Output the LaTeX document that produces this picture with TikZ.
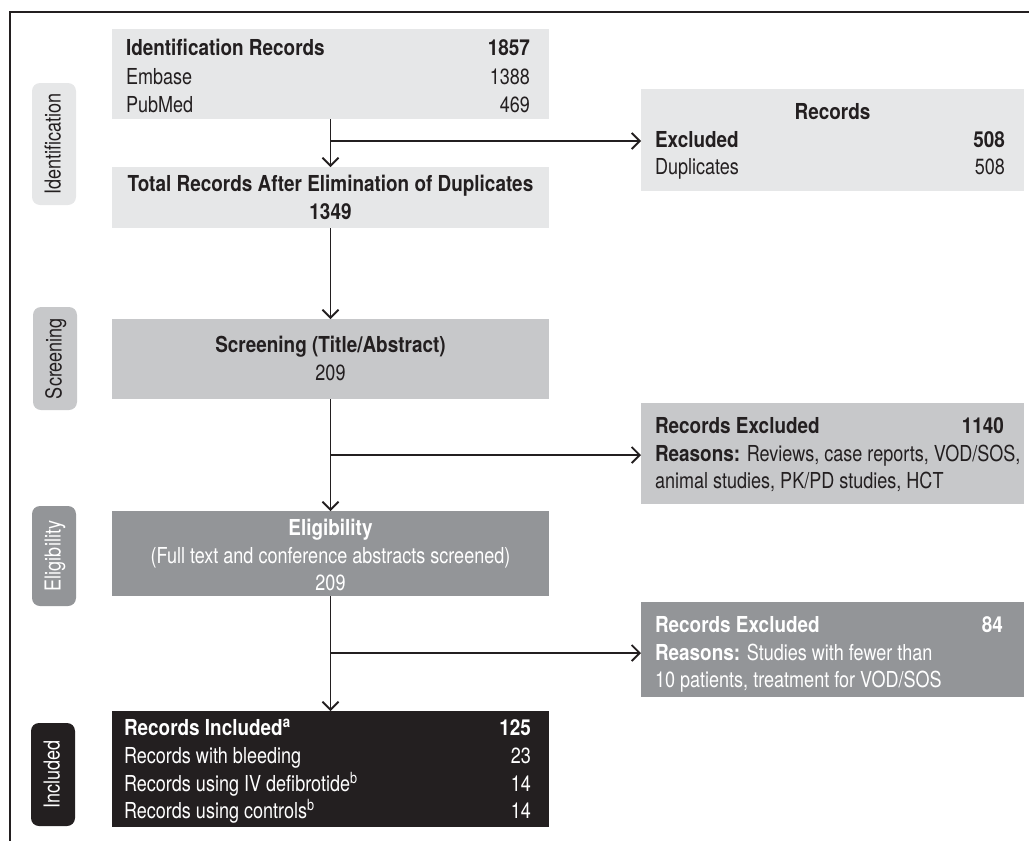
\documentclass[tikz,border=0pt]{standalone}
\usepackage{fontspec}
\setmainfont{TeX Gyre Heros}[FakeStretch=0.82,BoldFeatures={FakeStretch=0.86}]
\usetikzlibrary{arrows.meta}
\definecolor{cLight}{HTML}{E6E7E8}
\definecolor{cMid}{HTML}{C7C8CA}
\definecolor{cDark}{HTML}{939598}
\definecolor{cInk}{HTML}{231F20}
\newcommand{\myfs}{\fontsize{22}{28}\selectfont}
\begin{document}
\begin{tikzpicture}[x=1pt,y=-1pt,
  boxnode/.style={anchor=north west, inner sep=0pt, outer sep=0pt, draw=none},
  txt/.style={inner sep=0pt, outer sep=0pt, text=cInk, font=\myfs},
  btxt/.style={txt, font=\myfs\bfseries},
  wtxt/.style={txt, text=white},
  wbtxt/.style={btxt, text=white},
  side/.style={rounded corners=8pt, inner sep=0pt, minimum height=44pt, rotate=90,
    text height=15pt, text depth=2pt, font=\myfs},
  arr/.style={draw=cInk, line width=1.8pt, -{Straight Barb[length=8pt,width=16pt]}}]
\useasboundingbox (0,0) rectangle (1029,841);
% frame
\draw[cInk, line width=2.2pt] (1029,12) -- (10,12) -- (10,841);

% side labels
\node[side, fill=cLight, text=cInk, minimum width=122pt] (sId) at (54,144) {Identification};
\node[side, fill=cMid, text=cInk, minimum width=103pt] (sSc) at (55,358.5) {Screening};
\node[side, fill=cDark, text=white, minimum width=100pt] (sEl) at (54,556) {Eligibility};
\node[side, fill=cInk, text=white, minimum width=103pt] (sIn) at (53,774.5) {Included};

% main boxes
\node[boxnode, fill=cLight, minimum width=437pt, minimum height=90pt] (idrec) at (112,29) {};
\node[boxnode, fill=cLight, minimum width=437pt, minimum height=61pt] (total) at (112,167) {};
\node[boxnode, fill=cMid, minimum width=437pt, minimum height=80pt] (scr) at (112,319) {};
\node[boxnode, fill=cDark, minimum width=437pt, minimum height=85pt] (elig) at (112,511) {};
\node[boxnode, fill=cInk, minimum width=437pt, minimum height=116pt] (incl) at (112,711) {};

% right boxes
\node[boxnode, fill=cLight, minimum width=383pt, minimum height=102pt] (dup) at (641,89) {};
\node[boxnode, fill=cMid, minimum width=383pt, minimum height=101pt] (exa) at (641,403) {};
\node[boxnode, fill=cDark, minimum width=383pt, minimum height=95pt] (exb) at (641,602) {};

% texts: identification
\node[btxt, anchor=base west] (t1a) at (126,55) {Identification Records};
\node[btxt, anchor=base east] (t1b) at (530,55) {1857};
\node[txt, anchor=base west] (t1c) at (126,84) {Embase};
\node[txt, anchor=base east] (t1d) at (530,84) {1388};
\node[txt, anchor=base west] (t1e) at (126,112) {PubMed};
\node[txt, anchor=base east] (t1f) at (530,112) {469};

% total
\node[btxt, anchor=base] (t2a) at (330.5,191) {Total Records After Elimination of Duplicates};
\node[btxt, anchor=base] (t2b) at (330.5,219) {1349};

% screening
\node[btxt, anchor=base] (t3a) at (330.5,352) {Screening (Title/Abstract)};
\node[txt, anchor=base] (t3b) at (330.5,380) {209};

% eligibility
\node[wbtxt, anchor=base] (t4a) at (330.5,535) {Eligibility};
\node[wtxt, anchor=base] (t4b) at (330.5,563) {(Full text and conference abstracts screened)};
\node[wtxt, anchor=base] (t4c) at (330.5,590) {209};

% included
\node[wbtxt, anchor=base west] (t5a) at (124,735) {Records Included\textsuperscript{a}};
\node[wbtxt, anchor=base east] (t5b) at (531,735) {125};
\node[wtxt, anchor=base west] (t5c) at (124,763) {Records with bleeding};
\node[wtxt, anchor=base east] (t5d) at (531,763) {23};
\node[wtxt, anchor=base west] (t5e) at (124,791) {Records using IV defibrotide\textsuperscript{b}};
\node[wtxt, anchor=base east] (t5f) at (531,791) {14};
\node[wtxt, anchor=base west] (t5g) at (124,818) {Records using controls\textsuperscript{b}};
\node[wtxt, anchor=base east] (t5h) at (531,818) {14};

% duplicates box
\node[btxt, anchor=base] (r1a) at (832.5,119) {Records};
\node[btxt, anchor=base west] (r1b) at (655,147) {Excluded};
\node[btxt, anchor=base east] (r1c) at (1005,147) {508};
\node[txt, anchor=base west] (r1d) at (655,174) {Duplicates};
\node[txt, anchor=base east] (r1e) at (1005,174) {508};

% excluded a
\node[btxt, anchor=base west] (r2a) at (655,433) {Records Excluded};
\node[btxt, anchor=base east] (r2b) at (1004,433) {1140};
\node[txt, anchor=base west] (r2c) at (655,461) {\textbf{Reasons:} Reviews, case reports, VOD/SOS,};
\node[txt, anchor=base west] (r2d) at (655,488) {animal studies, PK/PD studies, HCT};

% excluded b
\node[wbtxt, anchor=base west] (r3a) at (655,632) {Records Excluded};
\node[wbtxt, anchor=base east] (r3b) at (1003,632) {84};
\node[wtxt, anchor=base west] (r3c) at (655,660) {\textbf{Reasons:} Studies with fewer than};
\node[wtxt, anchor=base west] (r3d) at (655,687) {10 patients, treatment for VOD/SOS};

% junctions
\coordinate (j1) at (330.5,141);
\coordinate (j2) at (330.5,455);
\coordinate (j3) at (330.5,653);

% connectors
\draw[arr] (idrec.south) -- (total.north);
\draw[arr] (total.south) -- (scr.north);
\draw[arr] (scr.south) -- (elig.north);
\draw[arr] (elig.south) -- (incl.north);
\draw[arr] (j1) -- (j1 -| dup.west);
\draw[arr] (j2) -- (j2 -| exa.west);
\draw[arr] (j3) -- (j3 -| exb.west);
\end{tikzpicture}
\end{document}
